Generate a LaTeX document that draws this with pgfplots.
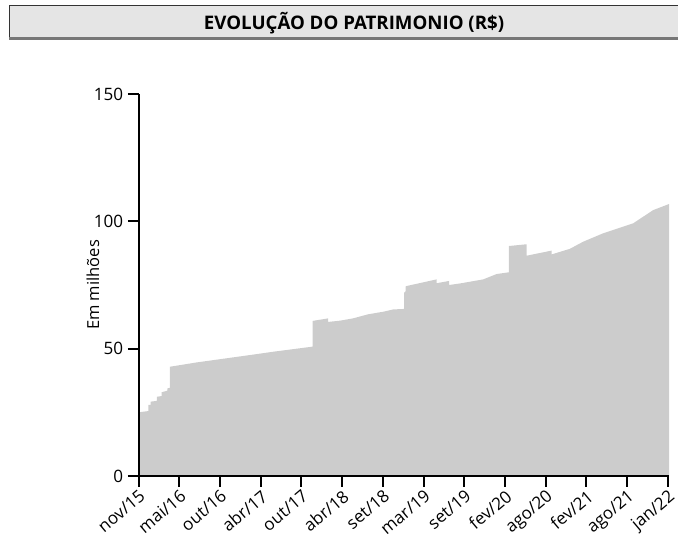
\documentclass[border=0pt]{standalone}
\usepackage{fontspec}
\setmainfont{Open Sans}
\usepackage{pgfplots}
\pgfplotsset{compat=1.18}
\definecolor{fillgray}{HTML}{CCCCCC}
\definecolor{titlebg}{HTML}{E5E5E5}
\definecolor{titleline}{HTML}{777777}
\begin{document}
\begin{tikzpicture}
\path[use as bounding box] (0,0) rectangle (508.5pt,414.75pt);
% title box
\fill[titlebg] (6.75pt,384.75pt) rectangle (508.5pt,410.25pt);
\draw[black!80, line width=0.75pt] (6.75pt,384.75pt) -- (6.75pt,410.25pt) -- (508.5pt,410.25pt);
\draw[titleline, line width=2.25pt] (6.75pt,385.5pt) -- (508.5pt,385.5pt);
\node[anchor=base, inner sep=0pt, font=\bfseries\fontsize{14}{16}\selectfont] at (265.5pt,392.8pt) {EVOLUÇÃO DO PATRIMONIO (R\$)};
\begin{axis}[
  at={(103.875pt,57.75pt)}, anchor=south west,
  scale only axis, width=397.9pt, height=286.5pt,
  xmin=0, xmax=13.03, ymin=0, ymax=150,
  axis x line*=bottom, axis y line*=left,
  axis line style={line width=1.5pt, black},
  axis on top,
  tick align=outside,
  major tick length=8pt,
  tick style={line width=1.5pt, black},
  xtick={0,1,2,3,4,5,6,7,8,9,10,11,12,13},
  xticklabels={nov/15,mai/16,out/16,abr/17,out/17,abr/18,set/18,mar/19,set/19,fev/20,ago/20,fev/21,ago/21,jan/22},
  ytick={0,50,100,150},
  /pgf/number format/assume math mode=true,
  tick label style={font=\fontsize{12.8}{15}\selectfont},
  xticklabel style={rotate=40, anchor=north east, inner sep=1pt},
  ylabel={Em milhões},
  ylabel style={at={(axis description cs:-0.0857,0.5)}, anchor=center, font=\fontsize{12.4}{14}\selectfont},
  clip=false,
]
\addplot[fill=fillgray, draw=none] coordinates {
(0,25.0) (0.24,25.5) (0.24,27.9) (0.30,27.9) (0.30,29.2) (0.45,29.5) (0.45,31.1)
(0.57,31.4) (0.57,32.9) (0.71,33.5) (0.71,34.4) (0.77,34.6) (0.77,42.9)
(1.43,44.6) (2.74,47.5) (3.31,48.8) (4.277,50.8) (4.277,60.9) (4.66,61.9)
(4.66,60.5) (4.95,61.0) (5.27,61.9) (5.64,63.5) (6.01,64.5) (6.256,65.4)
(6.526,65.6) (6.526,72.0) (6.56,72.5) (6.56,74.4) (6.585,74.6) (7.321,77.2)
(7.321,75.7) (7.631,76.6) (7.631,75.0) (7.894,75.6) (8.466,77.2) (8.795,79.3)
(9.097,80.0) (9.097,90.3) (9.531,91.0) (9.531,86.5) (10.145,88.5) (10.145,87.0)
(10.594,89.2) (10.921,92.0) (11.412,95.3) (12.148,99.2) (12.639,104.4) (13.03,106.8)
} \closedcycle;
\end{axis}
\end{tikzpicture}
\end{document}
